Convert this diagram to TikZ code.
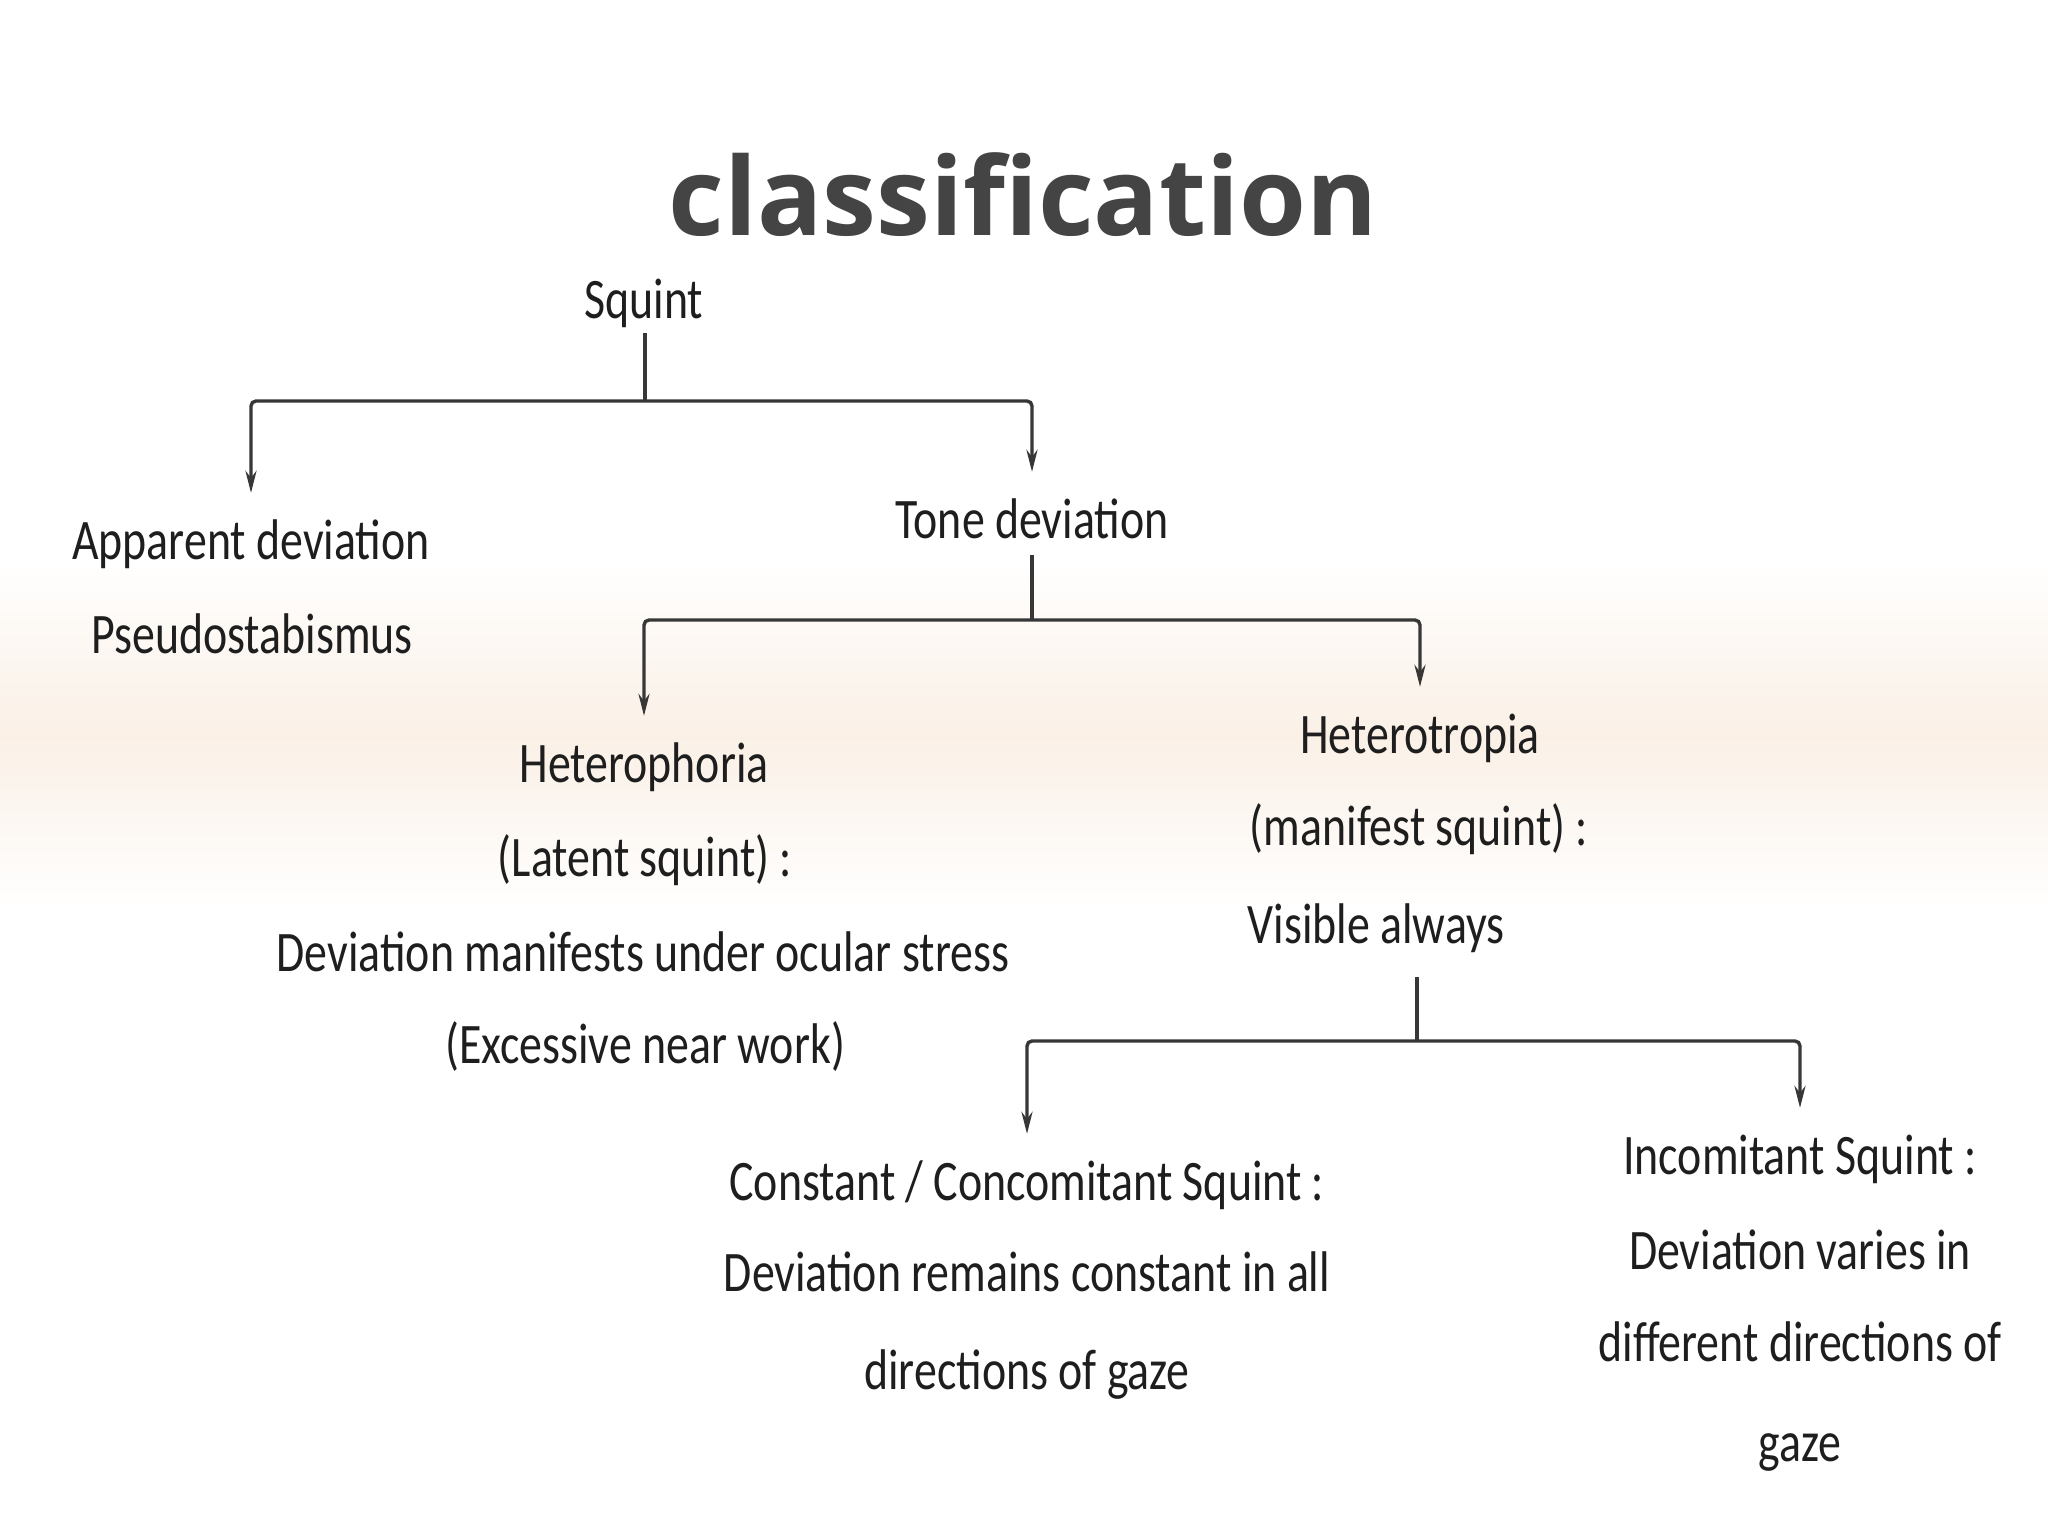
\documentclass[tikz,border=0pt]{standalone}
\usepackage{fontspec}
\setmainfont{Carlito}
\newfontfamily\titlefont{Open Sans}
\newfontfamily\hand[FakeStretch=0.8]{Carlito}
\usetikzlibrary{arrows.meta}
\definecolor{ink}{RGB}{30,30,30}
\definecolor{linecol}{RGB}{55,55,55}
\definecolor{titlecol}{RGB}{68,68,68}
\definecolor{peach}{RGB}{250,240,230}
\begin{document}
\begin{tikzpicture}[x=0.01cm,y=-0.01cm,
  hand/.style={font=\hand\fontsize{16.3pt}{18pt}\selectfont, text=ink, inner sep=0pt, text height=0.65em, text depth=0pt, anchor=center, yshift=-0.7mm},
  ttl/.style={font=\titlefont\bfseries\fontsize{30.8pt}{34pt}\selectfont, text=titlecol, inner sep=0pt, anchor=base},
  conn/.style={draw=linecol, line width=0.34mm, rounded corners=0.5mm},
  arr/.style={conn, -{Stealth[length=2.2mm,width=1.1mm]}}]
\useasboundingbox (0,0) rectangle (2048,1536);
\fill[white] (0,0) rectangle (2048,1536);
\shade[top color=white, bottom color=white, middle color=peach, draw=none] (0,560) rectangle (2048,910);

\node[ttl] (title) at (1023,235) {classification};

\node[hand] (squint) at (644,300) {Squint};
\node[hand] (app) at (251,541) {Apparent deviation};
\node[hand] (pseudo) at (252,635) {Pseudostabismus};
\node[hand] (tone) at (1032,520) {Tone deviation};
\node[hand] (hphor) at (644,764) {Heterophoria};
\node[hand] (latent) at (645,858) {(Latent squint) :};
\node[hand] (devman) at (643,953) {Deviation manifests under ocular stress};
\node[hand] (excess) at (645,1045) {(Excessive near work)};
\node[hand] (htrop) at (1420,735) {Heterotropia};
\node[hand] (manif) at (1419,827) {(manifest squint) :};
\node[hand, anchor=west] (visible) at (1247,925) {Visible always};
\node[hand] (const) at (1027,1182) {Constant / Concomitant Squint :};
\node[hand] (devrem) at (1027,1273) {Deviation remains constant in all};
\node[hand] (dirs) at (1027,1371) {directions of gaze};
\node[hand] (incom) at (1800,1156) {Incomitant Squint :};
\node[hand] (devvar) at (1800,1251) {Deviation varies in};
\node[hand] (diff) at (1800,1343) {different directions of};
\node[hand] (gaze) at (1800,1443) {gaze};

\coordinate (j1) at (645,401);
\coordinate (j2) at (1032,620);
\coordinate (j3) at (1417,1041);

\draw[conn] ([yshift=-1.4mm]squint.south -| j1) -- (j1);
\draw[arr] (j1) -| ([yshift=4.3mm]app.north);
\draw[arr] (j1) -| ([yshift=4.3mm]tone.north);

\draw[conn] ([yshift=-1.6mm]tone.south -| j2) -- (j2);
\draw[arr] (j2) -| ([yshift=4.3mm]hphor.north);
\draw[arr] (j2) -| ([yshift=4.3mm]htrop.north);

\draw[conn] ([yshift=-3.3mm]visible.south -| j3) -- (j3);
\draw[arr] (j3) -| ([yshift=4.3mm]const.north);
\draw[arr] (j3) -| ([yshift=4.3mm]incom.north);
\end{tikzpicture}
\end{document}
